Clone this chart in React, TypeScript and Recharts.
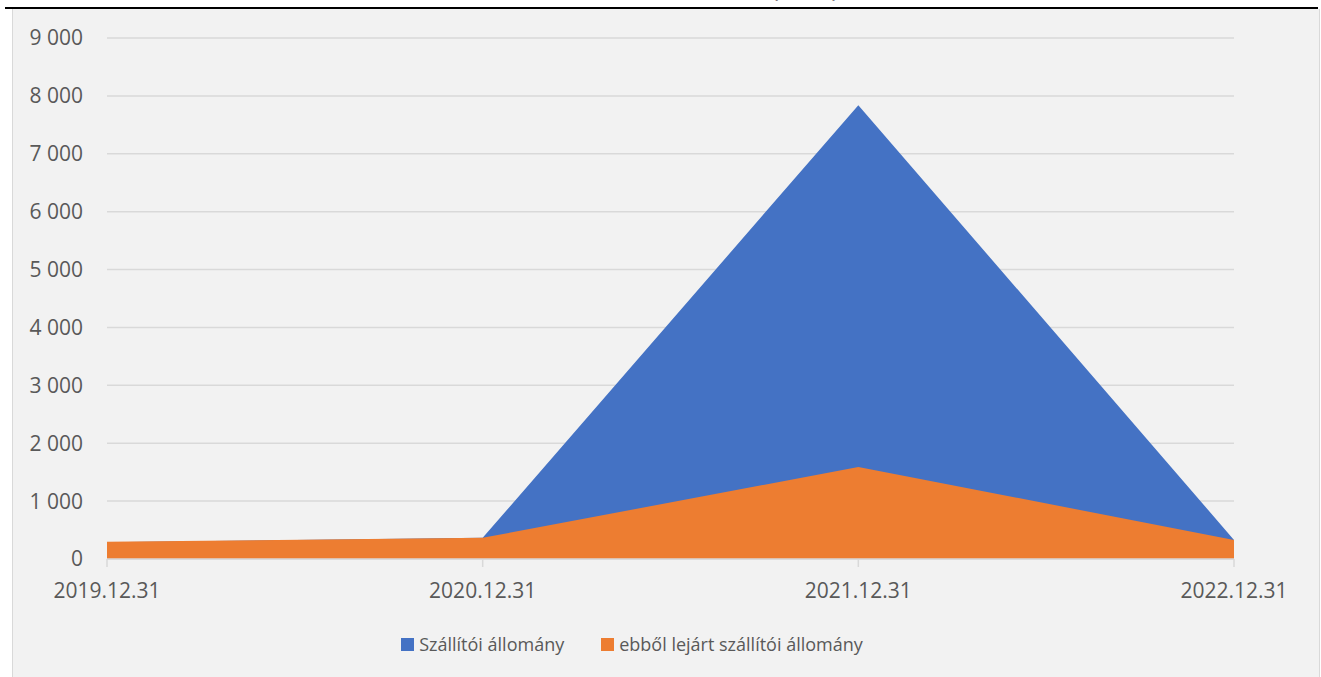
import React from 'react'
import { AreaChart, Area, XAxis, YAxis, CartesianGrid, Legend } from 'recharts'

const categories = ['2019.12.31', '2020.12.31', '2021.12.31', '2022.12.31']
const supplierStock = [290, 365, 7840, 330]
const overdueStock = [300, 365, 1590, 330]
const yTicks = [0, 1000, 2000, 3000, 4000, 5000, 6000, 7000, 8000, 9000]

const BLUE = '#4472c4'
const ORANGE = '#ed7d31'
const FONT = '"Open Sans", "Liberation Sans", sans-serif'

const data = categories.map((c, i) => ({
  date: c,
  supplier: supplierStock[i],
  overdue: overdueStock[i],
}))

// hungarian style thousands: "9 000"
const fmt = (v: number) => (v === 0 ? '0' : String(v).replace(/\B(?=(\d{3})+(?!\d))/g, ' '))

const legendItems = [
  { name: 'Szállítói állomány', color: BLUE },
  { name: 'ebből lejárt szállítói állomány', color: ORANGE },
]

const renderLegend = () => (
  <div style={{ display: 'flex', justifyContent: 'center', alignItems: 'center', fontFamily: FONT, fontSize: 18, color: '#595959' }}>
    {legendItems.map((it, i) => (
      <span key={it.name} style={{ display: 'inline-flex', alignItems: 'center', marginRight: i === 0 ? 37 : 0 }}>
        <span style={{ display: 'inline-block', width: 13, height: 13, background: it.color, marginRight: 5 }} />
        {it.name}
      </span>
    ))}
  </div>
)

const App: React.FC = () => {
  return (
    <div style={{ position: 'absolute', left: 0, top: 0, width: 1321, height: 677, background: '#fff', overflow: 'hidden' }}>
      {/* title, mostly cut off above the frame */}
      <div style={{ position: 'absolute', left: 0, width: 1610, top: -32, textAlign: 'center', fontFamily: FONT, fontSize: 26, color: '#000' }}>
        (M Ft)
      </div>
      {/* chart frame */}
      <div style={{ position: 'absolute', left: 12, top: 9, width: 1306, height: 680, background: '#f2f2f2', borderLeft: '1px solid #d9d9d9', borderRight: '1px solid #d9d9d9' }} />
      <div style={{ position: 'absolute', left: 5, top: 7, width: 1313, height: 2, background: '#000' }} />
      <div style={{ position: 'absolute', left: 0, top: 0 }}>
        <AreaChart width={1321} height={677} data={data} margin={{ top: 38, right: 87, bottom: 88, left: 0 }}>
          <CartesianGrid vertical={false} stroke="#d9d9d9" strokeWidth={1.5} />
          <XAxis
            dataKey="date"
            axisLine={{ stroke: '#d9d9d9', strokeWidth: 1.5 }}
            tickLine={{ stroke: '#d9d9d9', strokeWidth: 1.5 }}
            tickSize={8}
            tickMargin={16}
            height={30}
            interval={0}
            tick={{ fill: '#595959', fontSize: 21, fontFamily: FONT }}
          />
          <YAxis
            width={107}
            domain={[0, 9000]}
            ticks={yTicks}
            axisLine={false}
            tickLine={false}
            tickSize={6}
            tickMargin={18}
            tickFormatter={fmt}
            tick={{ fill: '#595959', fontSize: 21, fontFamily: FONT }}
          />
          <Area type="linear" dataKey="supplier" name="Szállítói állomány" fill={BLUE} fillOpacity={1} stroke="none" isAnimationActive={false} />
          <Area type="linear" dataKey="overdue" name="ebből lejárt szállítói állomány" fill={ORANGE} fillOpacity={1} stroke="none" isAnimationActive={false} />
          <Legend verticalAlign="middle" align="center" content={renderLegend} wrapperStyle={{ top: 632, left: 332, width: 600 }} />
        </AreaChart>
      </div>
    </div>
  )
}

export default App
